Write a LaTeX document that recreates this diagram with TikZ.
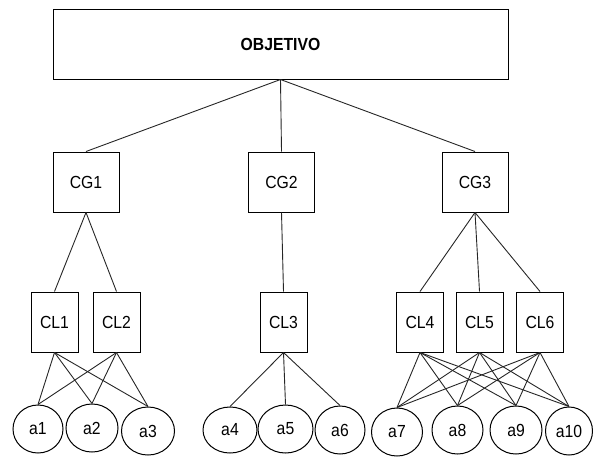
\documentclass[tikz,border=0pt]{standalone}
\usepackage{fontspec}
\setmainfont{Liberation Sans}[FakeStretch=0.9]
\usetikzlibrary{shapes.geometric}
\begin{document}
\begin{tikzpicture}[x=1pt,y=-1pt,
  box/.style={draw=black, line width=1pt, fill=white, inner sep=0pt,
    font=\fontsize{17.5}{20}\selectfont},
  goal/.style={box, minimum width=455pt, minimum height=70pt,
    font=\fontsize{17.5}{20}\selectfont\bfseries},
  cg/.style={box, minimum width=66pt, minimum height=60pt},
  cl/.style={box, minimum width=47pt, minimum height=60pt},
  attr/.style={draw=black, ellipse, line width=1pt, fill=white, inner sep=0pt,
    minimum width=52pt, minimum height=48pt,
    font=\fontsize{17.5}{20}\selectfont},
  link/.style={draw=black!85, line width=0.9pt}]
\useasboundingbox (0,0) rectangle (593,456);

% goal
\node[goal] (obj) at (280.5,44) {OBJETIVO};

% general criteria
\node[cg] (cg1) at (86,182) {CG1};
\node[cg] (cg2) at (281.5,182) {CG2};
\node[cg] (cg3) at (475,182) {CG3};

% local criteria
\node[cl] (cl1) at (54.5,322) {CL1};
\node[cl] (cl2) at (116.5,322) {CL2};
\node[cl] (cl3) at (283.5,322) {CL3};
\node[cl] (cl4) at (420,322) {CL4};
\node[cl] (cl5) at (479.5,322) {CL5};
\node[cl] (cl6) at (540,322) {CL6};

% alternatives
\node[attr, minimum width=50pt] (a1) at (38,429) {a1};
\node[attr] (a2) at (92,428) {a2};
\node[attr, minimum width=53pt] (a3) at (148,431) {a3};
\node[attr, minimum width=54pt, minimum height=46pt] (a4) at (230,430) {a4};
\node[attr, minimum width=55pt] (a5) at (285.5,429) {a5};
\node[attr, minimum width=50pt] (a6) at (340,430) {a6};
\node[attr, minimum width=51pt] (a7) at (397,432) {a7};
\node[attr, minimum width=51pt] (a8) at (457.5,430) {a8};
\node[attr, minimum width=52pt] (a9) at (516,430) {a9};
\node[attr, minimum width=47pt] (a10) at (569,431) {a10};

% goal to general criteria
\foreach \g in {cg1,cg2,cg3}
  \draw[link] (obj.south) -- (\g.north);

% general to local criteria
\draw[link] (cg1.south) -- (cl1.north);
\draw[link] (cg1.south) -- (cl2.north);
\draw[link] (cg2.south) -- (cl3.north);
\foreach \c in {cl4,cl5,cl6}
  \draw[link] (cg3.south) -- (\c.north);

% local criteria to alternatives
\foreach \c in {cl1,cl2}
  \foreach \a in {a1,a2,a3}
    \draw[link] (\c.south) -- (\a.north);
\foreach \a in {a4,a5,a6}
  \draw[link] (cl3.south) -- (\a.north);
\foreach \c in {cl4,cl5,cl6}
  \foreach \a in {a7,a8,a9,a10}
    \draw[link] (\c.south) -- (\a.north);
\end{tikzpicture}
\end{document}
